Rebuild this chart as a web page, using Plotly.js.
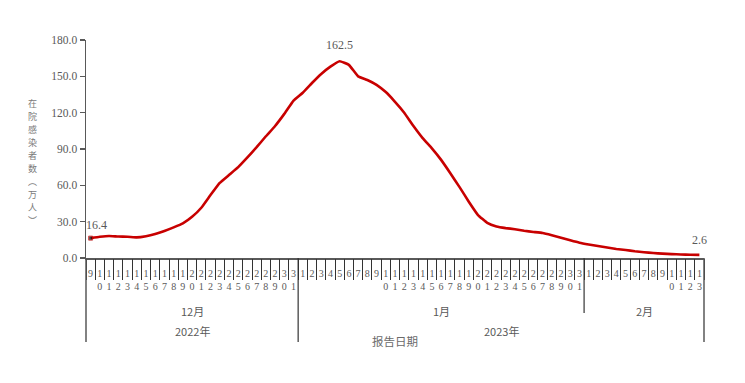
<!DOCTYPE html>
<html>
<head>
<meta charset="utf-8">
<script src="https://cdn.plot.ly/plotly-3.0.1.min.js"></script>
<style>html,body{margin:0;padding:0;background:#fff;}#chart{width:745px;height:383px;}</style>
</head>
<body>
<div id="chart"></div>
<script>
// Categories: report dates
const decDays = [9,10,11,12,13,14,15,16,17,18,19,20,21,22,23,24,25,26,27,28,29,30,31];
const janDays = [1,2,3,4,5,6,7,8,9,10,11,12,13,14,15,16,17,18,19,20,21,22,23,24,25,26,27,28,29,30,31];
const febDays = [1,2,3,4,5,6,7,8,9,10,11,12,13];
const monthLabels = ['12月', '1月', '2月'];
const yearLabels = ['2022年', '2023年'];
// Hospitalized infected (10k persons)
const decValues = [16.4,17.5,18.2,17.7,17.6,17.0,18.0,19.8,22.3,25.3,28.6,34.0,41.5,52.0,62.0,68.5,75.0,83.0,91.5,100.5,109.0,119.0,130.0];
const janValues = [136.5,144.5,152.0,158.0,162.5,159.5,150.0,147.0,143.0,137.0,129.0,120.0,109.0,99.0,90.5,81.0,70.0,58.5,46.5,35.5,29.0,26.0,24.7,23.8,22.5,21.5,20.6,18.8,16.8,14.6,12.6];
const febValues = [11.2,9.9,8.6,7.5,6.6,5.6,4.8,4.1,3.6,3.2,2.9,2.7,2.6];
const yTickVals = [0,30,60,90,120,150,180];
const yTitle = '在院感染者数︵万人︶';
const xTitle = '报告日期';

const days = decDays.concat(janDays, febDays);
const values = decValues.concat(janValues, febValues);
const idx = days.map((d, i) => i);
const tickText = days.map(d => String(d).split('').join('<br>'));
const boundaries = idx.map(i => i - 0.5).concat([days.length - 0.5]);
const n = days.length;
const nDec = decDays.length, nJan = janDays.length, nFeb = febDays.length;

const grey = '#595959';
const serif = 'Liberation Serif, Times New Roman, serif';
const cjk = 'Noto Sans CJK SC, sans-serif';

const PH = 218; // plot height px
const PW = 618; // plot width px
const py = px => -(px) / PH; // px below axis -> paper

const traces = [
  {
    x: idx, y: values, type: 'scatter', mode: 'lines+markers',
    line: {color: '#c80000', width: 2.6, shape: 'spline', smoothing: 0.3},
    marker: {color: '#111', symbol: 'square', size: idx.map(i => i === 0 ? 4 : 0)},
    hoverinfo: 'skip', showlegend: false, cliponaxis: false
  },
  {
    x: [boundaries[0], boundaries[boundaries.length - 1]], y: [0, 0], xaxis: 'x2',
    type: 'scatter', mode: 'lines', line: {width: 0}, hoverinfo: 'skip', showlegend: false
  }
];

const labelFont = {family: serif, size: 12, color: grey};
const cjkFont = {family: cjk, size: 11, color: grey};
const annotations = [
  {xref: 'x', yref: 'y', x: 0, y: values[0], text: values[0].toFixed(1), showarrow: false, font: labelFont, xshift: 6, yshift: 13},
  {xref: 'x', yref: 'y', x: values.indexOf(Math.max(...values)), y: Math.max(...values), text: Math.max(...values).toFixed(1), showarrow: false, font: labelFont, yshift: 16},
  {xref: 'x', yref: 'y', x: n - 1, y: values[n - 1], text: values[n - 1].toFixed(1), showarrow: false, font: labelFont, yshift: 15},
  {xref: 'x', yref: 'paper', x: (nDec - 1) / 2, y: py(53), text: monthLabels[0], showarrow: false, font: cjkFont, yanchor: 'middle', xanchor: 'center'},
  {xref: 'x', yref: 'paper', x: nDec + (nJan - 1) / 2, y: py(53), text: monthLabels[1], showarrow: false, font: cjkFont, yanchor: 'middle', xanchor: 'center'},
  {xref: 'x', yref: 'paper', x: nDec + nJan + (nFeb - 1) / 2, y: py(53), text: monthLabels[2], showarrow: false, font: cjkFont, yanchor: 'middle', xanchor: 'center'},
  {xref: 'x', yref: 'paper', x: (nDec - 1) / 2, y: py(73), text: yearLabels[0], showarrow: false, font: cjkFont, yanchor: 'middle', xanchor: 'center'},
  {xref: 'x', yref: 'paper', x: nDec + (nJan + nFeb - 1) / 2, y: py(73), text: yearLabels[1], showarrow: false, font: cjkFont, yanchor: 'middle', xanchor: 'center'},
  {xref: 'paper', yref: 'paper', x: 0.5, y: py(83), text: xTitle, showarrow: false, font: {family: cjk, size: 11.5, color: '#6a6a6a'}, yanchor: 'middle', xanchor: 'center'}
];
// vertical, upright y-axis title: one character per line
const yTitleStep = 13.1;
yTitle.split('').forEach((ch, k) => {
  annotations.push({
    xref: 'paper', yref: 'paper', x: -54 / PW, y: (258 - 103 - k * yTitleStep) / PH,
    text: ch, showarrow: false, font: {family: cjk, size: 9, color: '#7a7a7a'},
    xanchor: 'center', yanchor: 'middle', borderpad: 0
  });
});

const lineStyle = {color: '#333', width: 1.2};
const shapes = [
  {type: 'line', xref: 'paper', yref: 'paper', x0: 0, x1: 0, y0: 0, y1: py(84), line: {color: grey, width: 1.5}},
  {type: 'line', xref: 'paper', yref: 'paper', x0: 1, x1: 1, y0: 0, y1: py(84), line: {color: grey, width: 1.5}},
  {type: 'line', xref: 'x', yref: 'paper', x0: nDec - 0.5, x1: nDec - 0.5, y0: 0, y1: py(84), line: lineStyle},
  {type: 'line', xref: 'x', yref: 'paper', x0: nDec + nJan - 0.5, x1: nDec + nJan - 0.5, y0: 0, y1: py(55), line: lineStyle}
];

const layout = {
  width: 745, height: 383,
  margin: {l: 86, r: 41, t: 40, b: 125},
  paper_bgcolor: '#fff', plot_bgcolor: '#fff',
  showlegend: false,
  xaxis: {
    range: [-0.5, n - 0.5], tickvals: idx, ticktext: tickText, tickangle: 0,
    ticks: 'outside', ticklen: 5, tickcolor: 'rgba(0,0,0,0)',
    tickfont: {family: serif, size: 10, color: grey},
    showline: true, linecolor: grey, linewidth: 1.5,
    showgrid: false, zeroline: false, automargin: false, fixedrange: true
  },
  xaxis2: {
    overlaying: 'x', anchor: 'y', side: 'bottom',
    range: [-0.5, n - 0.5], tickvals: boundaries, showticklabels: false,
    ticks: 'outside', ticklen: 21, tickcolor: '#333', tickwidth: 1,
    showline: false, showgrid: false, zeroline: false
  },
  yaxis: {
    range: [0, 180], tickvals: yTickVals, tickformat: '.1f',
    ticks: 'outside', ticklen: 5, tickcolor: grey, tickwidth: 1.5,
    tickfont: {family: serif, size: 11.5, color: grey},
    showline: true, linecolor: grey, linewidth: 1.5,
    showgrid: false, zeroline: false, automargin: false
  },
  annotations: annotations,
  shapes: shapes
};

Plotly.newPlot('chart', traces, layout, {staticPlot: true, displayModeBar: false});
</script>
</body>
</html>
